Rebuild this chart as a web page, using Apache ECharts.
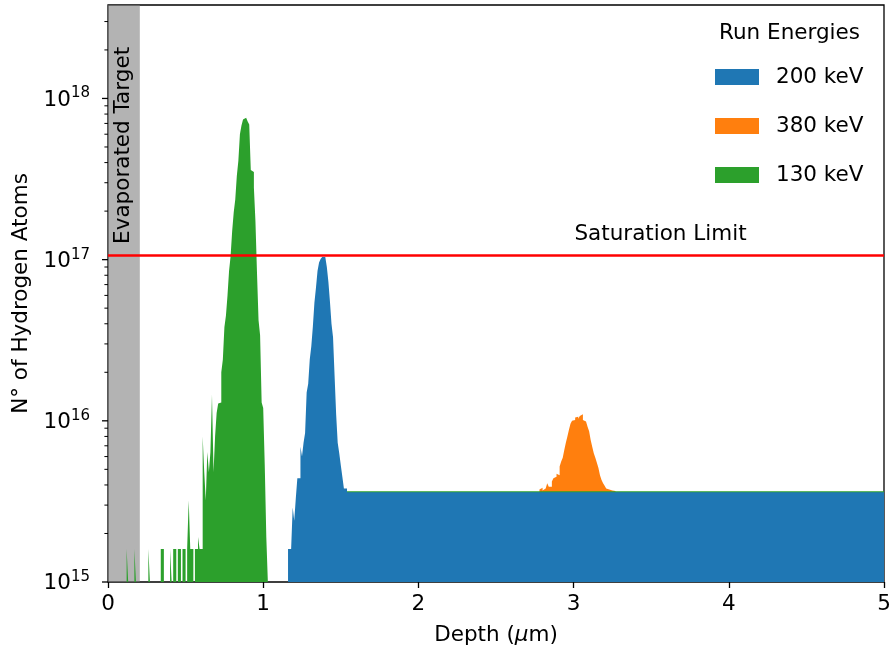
<!DOCTYPE html>
<html>
<head>
<meta charset="utf-8">
<script src="https://cdn.jsdelivr.net/npm/echarts@6/dist/echarts.min.js"></script>
<style>
  html, body { margin: 0; padding: 0; background: #ffffff; }
  #chart { width: 890px; height: 651px; }
</style>
</head>
<body>
<div id="chart"></div>
<script>
// Histogram bin width (µm) and value unit (atoms)
const BIN = 0.01;
const UNIT = 1e15;

// 130 keV run: one value per bin, first bin starting at run130Start (µm)
const run130Start = 0.12;
const run130 = [
  1.6, 0, 0, 0, 0, 1.6, 0, 0, 0, 0, 0, 0, 0, 0, 1.6, 0, 0, 0, 0, 0, 0, 0,
  1.6, 1.6, 0, 0, 0, 0, 1.6, 0, 1.6, 1.6, 0, 1.6, 1.6, 0, 1.6, 1.6, 0,
  1.6, 3.2, 1.6, 1.6, 0, 1.6, 1.6, 1.9, 1.6, 1.6,
  8.0, 4.8, 3.2, 6.4, 4.8, 6.4, 14.5, 4.8, 8.0, 11.2, 12.8, 13, 20, 24,
  38, 45, 60, 85, 105, 150, 196, 236, 330, 410, 600, 680, 740, 760, 745,
  720, 690, 360, 350, 280, 173, 83, 42, 34, 13, 12, 5.3, 1.9
];
// flat deep region of the 130 keV run: [from µm, to µm, level]
const run130Tail = [1.54, 5.0, 3.65];

// 200 keV run
const run200Start = 1.16;
const run200 = [
  1.6, 1.6, 1.6, 2.9, 2.4, 3.3, 4.4, 4.4, 6.9, 6.0, 7.3, 8.4, 15, 17, 24,
  29, 38.5, 54, 67, 85, 96, 101, 104, 104, 102, 90, 73, 55, 40, 33, 19, 11,
  7.3, 6.3, 5.3, 4.5, 3.8, 3.8
];
const run200Tail = [1.54, 5.0, 3.6];

// 380 keV run
const run380Start = 2.72;
const run380 = [
  3.67, 0, 0, 0, 3.67, 0, 3.75, 3.85, 3.7, 3.8, 3.9, 4.1, 3.9, 3.9, 4.2,
  4.4, 4.5, 4.7, 4.6, 5.2, 5.6, 5.9, 6.6, 7.3, 8.0, 8.8, 9.6, 10.0, 10.1,
  10.5, 10.6, 10.3, 10.7, 11.0, 10.1, 9.9, 9.7, 9.2, 8.6, 7.6, 6.9, 6.3,
  5.9, 5.5, 5.1, 4.6, 4.3, 4.1, 3.95, 3.8, 3.75, 3.7, 3.7, 3.67, 3.67
];

const saturationLimit = 1.07e17;
const evaporatedDepth = 0.205;
const Y_MIN = 1e15, Y_MAX = 3.8e18;
const yMajorTicks = [1e15, 1e16, 1e17, 1e18];
const yMinorTicks = [
  2e15, 3e15, 4e15, 5e15, 6e15, 7e15, 8e15, 9e15,
  2e16, 3e16, 4e16, 5e16, 6e16, 7e16, 8e16, 9e16,
  2e17, 3e17, 4e17, 5e17, 6e17, 7e17, 8e17, 9e17,
  2e18, 3e18
];

const FONT = 'DejaVu Sans';
const FS = 21.5;
const C200 = '#1f77b4', C380 = '#ff7f0e', C130 = '#2ca02c';

// Step-line data: one point at each bin's left edge plus a closing point at
// the right edge of each run of filled bins; empty bins break the outline.
function steps(start, values, tail) {
  const pts = [];
  let last = null; // [rightEdge, value] of the bin just added
  const close = () => { if (last) { pts.push([last[0], last[1]], [last[0], '-']); last = null; } };
  values.forEach((v, i) => {
    const x0 = +(start + i * BIN).toFixed(3);
    const x1 = +(start + (i + 1) * BIN).toFixed(3);
    if (v > 0) {
      pts.push([x0, v * UNIT]);
      last = [x1, v * UNIT];
    } else {
      close();
    }
  });
  if (tail) {
    if (!(last && last[0] === tail[0])) close();
    pts.push([tail[0], tail[2] * UNIT]);
    last = [tail[1], tail[2] * UNIT];
  }
  if (last) pts.push([last[0], last[1]]);
  return pts;
}

function histSeries(name, color, data) {
  return {
    name, type: 'line', data, step: 'end',
    color, itemStyle: { color },
    symbol: 'none', showSymbol: false,
    lineStyle: { width: 0, color, opacity: 0 },
    areaStyle: { color, opacity: 1, origin: 'start' },
    connectNulls: false, smooth: false,
    animation: false, silent: true, clip: true
  };
}

function tickItems(values, len, width) {
  return values.map(v => [0, v, len, width]);
}

const chart = echarts.init(document.getElementById('chart'), null, { renderer: 'canvas' });

const option = {
  animation: false,
  backgroundColor: '#ffffff',
  grid: {
    left: 108, right: 6, top: 5, bottom: 69,
    outerBoundsMode: 'none', containLabel: false,
    show: true, borderColor: '#000', borderWidth: 1.3, backgroundColor: 'transparent'
  },
  xAxis: {
    type: 'value', min: 0, max: 5, interval: 1,
    name: 'Depth ({i|μ}m)', nameLocation: 'middle', nameGap: 42,
    nameTextStyle: {
      fontFamily: FONT, fontSize: FS, color: '#000',
      rich: { i: { fontFamily: FONT, fontSize: FS, fontStyle: 'italic', color: '#000' } }
    },
    axisLine: { show: false },
    axisTick: { show: true, inside: false, length: 6, lineStyle: { color: '#000', width: 1.3 } },
    axisLabel: { fontFamily: FONT, fontSize: FS, color: '#000', margin: 11 },
    splitLine: { show: false },
    minorSplitLine: { show: false }
  },
  yAxis: {
    type: 'log', logBase: 10, min: Y_MIN, max: Y_MAX,
    name: 'N° of Hydrogen Atoms', nameLocation: 'middle', nameGap: 76,
    nameTextStyle: { fontFamily: FONT, fontSize: FS, color: '#000' },
    axisLine: { show: false },
    axisTick: { show: false },
    axisLabel: {
      margin: 18, showMaxLabel: false, showMinLabel: true,
      formatter: v => '{b|10}{s|' + Math.round(Math.log10(v)) + '}',
      rich: {
        b: { fontFamily: FONT, fontSize: FS, color: '#000', verticalAlign: 'bottom' },
        s: { fontFamily: FONT, fontSize: 15, color: '#000', verticalAlign: 'bottom', padding: [0, 0, 10, 0] }
      }
    },
    splitLine: { show: false },
    minorTick: { show: false },
    minorSplitLine: { show: false }
  },
  legend: {
    data: ['200 keV', '380 keV', '130 keV'],
    orient: 'vertical', left: 715, top: 66, padding: 0,
    icon: 'rect', itemWidth: 44, itemHeight: 16, itemGap: 27,
    itemStyle: { borderWidth: 0 },
    textStyle: { fontFamily: FONT, fontSize: FS, color: '#000', lineHeight: 16, padding: [0, 0, 0, 12] },
    selectedMode: false
  },
  series: [
    histSeries('380 keV', C380, steps(run380Start, run380)),
    histSeries('130 keV', C130, steps(run130Start, run130, run130Tail)),
    histSeries('200 keV', C200, steps(run200Start, run200, run200Tail)),
    {
      // evaporated layer and saturation limit
      name: 'limits', type: 'line', data: [], silent: true, animation: false, z: 4,
      markArea: {
        silent: true,
        itemStyle: { color: 'rgba(128,128,128,0.6)' },
        data: [[{ xAxis: 0 }, { xAxis: evaporatedDepth }]]
      },
      markLine: {
        silent: true, symbol: 'none',
        label: { show: false },
        lineStyle: { color: '#ff0000', width: 2.6, type: 'solid' },
        data: [{ yAxis: saturationLimit }]
      }
    },
    {
      // major and minor ticks of the log axis
      type: 'custom', silent: true, animation: false, clip: false, z: 10,
      data: tickItems(yMajorTicks, 6, 1.3).concat(tickItems(yMinorTicks, 3.6, 1)),
      encode: { x: 0, y: 1 },
      renderItem: (params, api) => {
        const p = api.coord([api.value(0), api.value(1)]);
        const len = api.value(2), w = api.value(3);
        return {
          type: 'line',
          shape: { x1: p[0] - len, y1: p[1], x2: p[0], y2: p[1] },
          style: { stroke: '#000', lineWidth: w }
        };
      }
    }
  ]
};

chart.setOption(option);

// Text annotations anchored to data coordinates
const satPx = chart.convertToPixel({ gridIndex: 0 }, [3.56, saturationLimit]);
const evapPx = chart.convertToPixel({ gridIndex: 0 }, [evaporatedDepth / 2, saturationLimit]);
chart.setOption({
  graphic: [
    {
      type: 'text', x: satPx[0], y: satPx[1] - 9, z: 20,
      style: { text: 'Saturation Limit', fontFamily: FONT, fontSize: FS, fill: '#000', align: 'center', verticalAlign: 'bottom' }
    },
    {
      type: 'text', x: evapPx[0], y: evapPx[1] - 11, rotation: Math.PI / 2, z: 20,
      style: { text: 'Evaporated Target', fontFamily: FONT, fontSize: FS, fill: '#000', align: 'left', verticalAlign: 'middle' }
    },
    {
      type: 'text', x: 789.5, y: 33, z: 20,
      style: { text: 'Run Energies', fontFamily: FONT, fontSize: FS, fill: '#000', align: 'center', verticalAlign: 'middle' }
    }
  ]
});
</script>
</body>
</html>
